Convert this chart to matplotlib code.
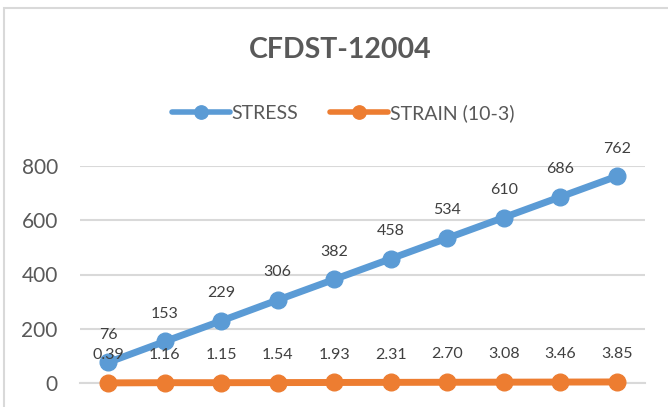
import matplotlib
matplotlib.use("Agg")
import matplotlib.pyplot as plt
from matplotlib.patches import Rectangle

categories = list(range(1, 11))
stress = [76, 153, 229, 306, 382, 458, 534, 610, 686, 762]
strain = [0.39, 1.16, 1.15, 1.54, 1.93, 2.31, 2.70, 3.08, 3.46, 3.85]
yticks = [0, 200, 400, 600, 800]
title = "CFDST-12004"
series_names = ["STRESS", "STRAIN (10-3)"]

W, H = 668, 407
plt.rcParams['font.family'] = ['Lato', 'DejaVu Sans']
fig = plt.figure(figsize=(W / 100, H / 100), dpi=100)

# chart border
fig.patches.append(Rectangle((4 / W, 0 - 0.01), 1.0, (H - 8) / H + 0.01,
                             transform=fig.transFigure, fill=False,
                             edgecolor='#D9D9D9', linewidth=1.5))

ax = fig.add_axes([80 / W, (H - 383) / H, (645 - 80) / W, (383 - 166) / H])
x = list(range(len(categories)))
blue = '#5B9BD5'
orange = '#ED7D31'
ax.plot(x, stress, color=blue, lw=5, marker='o', ms=12, label=series_names[0],
        clip_on=False, zorder=3, solid_capstyle='round')
ax.plot(x, strain, color=orange, lw=5, marker='o', ms=12, label=series_names[1],
        clip_on=False, zorder=3, solid_capstyle='round')

for xi, v in zip(x, stress):
    ax.annotate(f"{v}", (xi, v), xytext=(0, 20), textcoords='offset points',
                ha='center', va='center', fontsize=11.5, color='#404040')
for xi, v in zip(x, strain):
    ax.annotate(f"{v:.2f}", (xi, v), xytext=(0, 20), textcoords='offset points',
                ha='center', va='center', fontsize=11.5, color='#404040', zorder=4)

ax.set_xlim(-0.5, len(categories) - 0.5)
ax.set_ylim(0, 800)
ax.set_yticks(yticks)
ax.set_yticklabels([str(t) for t in yticks], fontsize=15, color='#595959')
ax.set_xticks([])
ax.tick_params(axis='y', length=0, pad=16)
for s in ['top', 'right', 'left']:
    ax.spines[s].set_visible(False)
ax.spines['bottom'].set_color('#D9D9D9')
ax.spines['bottom'].set_linewidth(1.5)
ax.grid(axis='y', color='#D9D9D9', linewidth=1.5)
ax.set_axisbelow(True)

fig.text(340 / W, 1 - 50 / H, title, ha='center', va='center', fontsize=20.5,
         fontweight='bold', color='#595959')

leg = fig.legend(loc='center', bbox_to_anchor=(343 / W, 1 - 113 / H), ncol=2,
                 frameon=False, fontsize=14, handlelength=3.0, handletextpad=0.1,
                 columnspacing=1.6, labelcolor='#595959', markerscale=0.8)
for line in leg.get_lines():
    line.set_linewidth(4)

fig.savefig("out.png", dpi=100)
